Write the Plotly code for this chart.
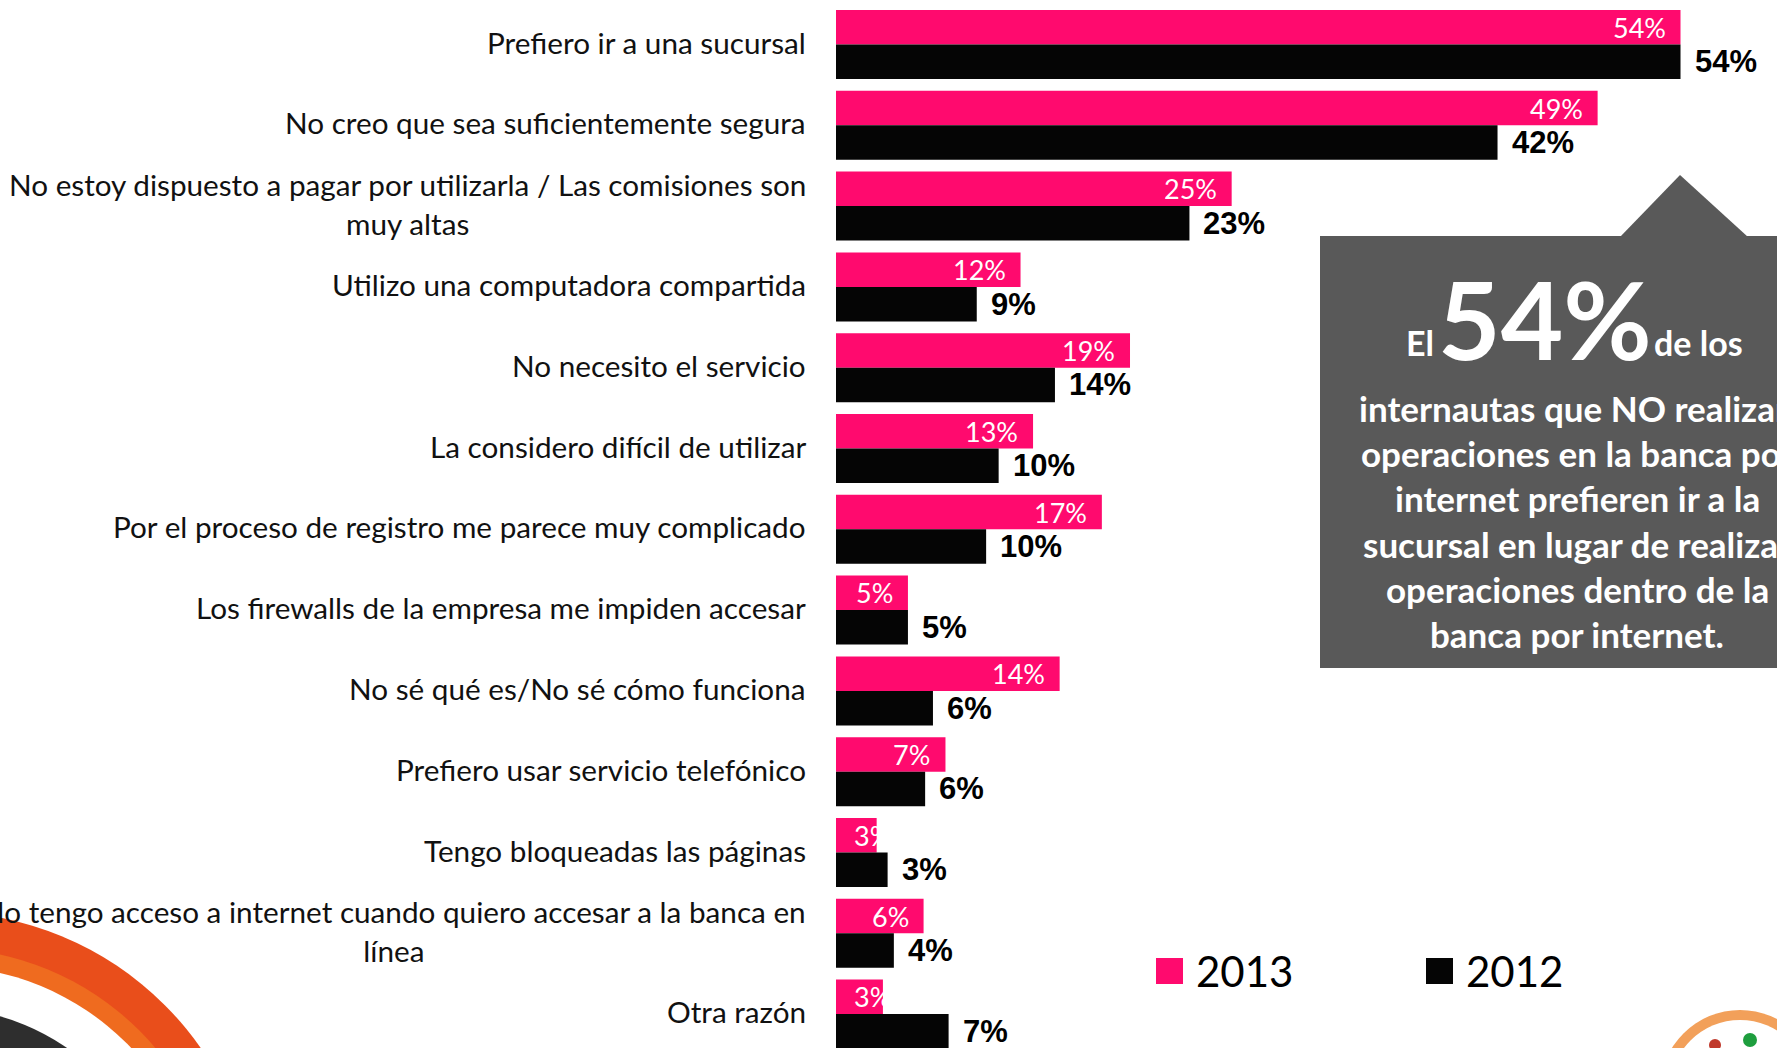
import plotly.graph_objects as go

categories = [
    "Prefiero ir a una sucursal",
    "No creo que sea suficientemente segura",
    "No estoy dispuesto a pagar por utilizarla / Las comisiones son<br>muy altas",
    "Utilizo una computadora compartida",
    "No necesito el servicio",
    "La considero difícil de utilizar",
    "Por el proceso de registro me parece muy complicado",
    "Los firewalls de la empresa me impiden accesar",
    "No sé qué es/No sé cómo funciona",
    "Prefiero usar servicio telefónico",
    "Tengo bloqueadas las páginas",
    "No tengo acceso a internet cuando quiero accesar a la banca en<br>línea",
    "Otra razón",
]
values_2013 = [54, 48.7, 25.3, 11.8, 18.8, 12.6, 17.0, 4.6, 14.3, 7.0, 2.6, 5.6, 3.0]
values_2012 = [54, 42.3, 22.6, 9.0, 14.0, 10.4, 9.6, 4.6, 6.2, 5.7, 3.3, 3.7, 7.2]
series_names = ["2013", "2012"]

callout_big = "54%"
callout_lines = [
    "internautas que NO realizan",
    "operaciones en la banca por",
    "internet prefieren ir a la",
    "sucursal en lugar de realizar",
    "operaciones dentro de la",
    "banca por internet.",
]

PINK = "#FF0A6E"
BLACK = "#050505"
GRAY = "#595959"

W, H = 1777, 1048
ML = 836
PW = W - ML


def px(x):
    return (x - ML) / PW


def py(y):
    return 1 - y / H


rows = list(range(len(categories)))
bargap = 0.146
bw = (1 - bargap) / 2

fig = go.Figure()
fig.add_trace(go.Bar(y=rows, x=values_2013, orientation="h", name=series_names[0],
                     marker=dict(color=PINK, line=dict(width=0))))
fig.add_trace(go.Bar(y=rows, x=values_2012, orientation="h", name=series_names[1],
                     marker=dict(color=BLACK, line=dict(width=0))))

ann = []
# category labels
for i, c in enumerate(categories):
    ann.append(dict(x=px(808), xref="paper", y=i - 0.03, yref="y", text=c, showarrow=False,
                    xanchor="right", yanchor="middle", align="center",
                    font=dict(family="Lato", size=29.7, color="#111")))

scale = PW / 60.17
for i, v in enumerate(values_2013):
    t = f"{int(v + 0.5)}%"
    if v * scale < 68:
        ann.append(dict(x=0, y=i - bw / 2, xref="x", yref="y", text=t, showarrow=False,
                        xanchor="left", yanchor="middle", xshift=16,
                        font=dict(family="Lato", size=27, color="white")))
    else:
        ann.append(dict(x=v, y=i - bw / 2, xref="x", yref="y", text=t, showarrow=False,
                        xanchor="right", yanchor="middle", xshift=-13,
                        font=dict(family="Lato", size=27, color="white")))
for i, v in enumerate(values_2012):
    t = f"<b>{int(v + 0.5)}%</b>"
    ann.append(dict(x=v, y=i + bw / 2, xref="x", yref="y", text=t, showarrow=False,
                    xanchor="left", yanchor="middle", xshift=12,
                    font=dict(family="Liberation Sans", size=31, color="black")))

# callout text
ann.append(dict(x=px(1545), y=py(318), xref="paper", yref="paper", text="<b>" + callout_big + "</b>",
                showarrow=False, xanchor="center", yanchor="middle",
                font=dict(family="Lato", size=108, color="white")))
ann.append(dict(x=px(1436), y=py(342), xref="paper", yref="paper", text="<b>El</b>",
                showarrow=False, xanchor="right", yanchor="middle",
                font=dict(family="Lato", size=34, color="white")))
ann.append(dict(x=px(1652), y=py(342), xref="paper", yref="paper", text="<b>de los</b>",
                showarrow=False, xanchor="left", yanchor="middle",
                font=dict(family="Lato", size=34, color="white")))
for k, line in enumerate(callout_lines):
    ann.append(dict(x=px(1577), y=py(408 + 45.2 * k), xref="paper", yref="paper",
                    text="<b>" + line + "</b>", showarrow=False, xanchor="center", yanchor="middle",
                    font=dict(family="Lato", size=35, color="white")))

# legend
legend_items = [(series_names[0], PINK, 1156), (series_names[1], BLACK, 1426)]
shapes = []
for name, col, x0 in legend_items:
    shapes.append(dict(type="rect", xref="paper", yref="paper", x0=px(x0), x1=px(x0 + 27),
                       y0=py(984), y1=py(958), fillcolor=col, line=dict(width=0)))
    ann.append(dict(x=px(x0 + 38), y=py(971), xref="paper", yref="paper", text=name,
                    showarrow=False, xanchor="left", yanchor="middle",
                    font=dict(family="Lato", size=42, color="black")))

# callout box
shapes.append(dict(type="rect", xref="paper", yref="paper", x0=px(1320), x1=px(1790),
                   y0=py(668), y1=py(236), fillcolor=GRAY, line=dict(width=0), layer="below"))
shapes.append(dict(type="path", xref="paper", yref="paper",
                   path=f"M {px(1620)} {py(237)} L {px(1680)} {py(175)} L {px(1748)} {py(237)} Z",
                   fillcolor=GRAY, line=dict(width=0), layer="below"))


def circle(cx, cy, r, col):
    return dict(type="circle", xref="paper", yref="paper", x0=px(cx - r), x1=px(cx + r),
                y0=py(cy + r), y1=py(cy - r), fillcolor=col, line=dict(width=0), layer="below")


# bottom-left decoration
shapes += [circle(-60, 1230, 318, "#E94E1B"), circle(-60, 1230, 282, "#EF6B1F"),
           circle(-60, 1230, 264, "white"), circle(-60, 1230, 222, "#2E2E2E")]
# bottom-right decoration
shapes += [circle(1740, 1090, 80, "#F2A05A"), circle(1740, 1090, 70, "white"),
           circle(1715, 1045, 6, "#C0392B"), circle(1750, 1040, 7, "#1E9E3E")]

fig.update_layout(
    width=W, height=H,
    margin=dict(l=ML, r=0, t=0, b=0),
    barmode="group", bargap=bargap, bargroupgap=0,
    showlegend=False,
    plot_bgcolor="rgba(0,0,0,0)", paper_bgcolor="white",
    xaxis=dict(range=[0, 60.17], visible=False, fixedrange=True),
    yaxis=dict(range=[12.42, -0.551], visible=False, fixedrange=True),
    annotations=ann, shapes=shapes,
)
fig.write_html("out.html", config={"displayModeBar": False},
               post_script="document.body.style.margin='0';document.body.style.overflow='hidden';")
